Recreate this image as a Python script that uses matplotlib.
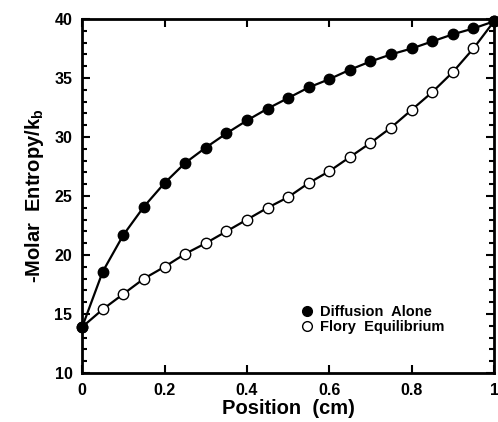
import matplotlib
matplotlib.use("Agg")
import matplotlib.pyplot as plt
from matplotlib.lines import Line2D
from matplotlib.ticker import MultipleLocator

plt.rcParams['font.family'] = ['Liberation Sans', 'DejaVu Sans']
plt.rcParams['font.weight'] = 'bold'

position = [0.0, 0.05, 0.1, 0.15, 0.2, 0.25, 0.3, 0.35, 0.4, 0.45, 0.5,
            0.55, 0.6, 0.65, 0.7, 0.75, 0.8, 0.85, 0.9, 0.95, 1.0]
diffusion_alone = [13.9, 18.6, 21.7, 24.1, 26.1, 27.8, 29.1, 30.3, 31.4, 32.4, 33.3,
                   34.2, 34.9, 35.7, 36.4, 37.0, 37.5, 38.1, 38.7, 39.2, 39.8]
flory_equilibrium = [13.9, 15.4, 16.7, 18.0, 19.0, 20.1, 21.0, 22.0, 23.0, 24.0, 24.9,
                     26.1, 27.1, 28.3, 29.5, 30.8, 32.3, 33.8, 35.5, 37.5, 39.8]
x_ticks = [0, 0.2, 0.4, 0.6, 0.8, 1]
x_ticklabels = ['0', '0.2', '0.4', '0.6', '0.8', '1']
y_ticks = [10, 15, 20, 25, 30, 35, 40]

fig = plt.figure(figsize=(4.98, 4.22), dpi=100)
ax = fig.add_axes([0.165, 0.116, 0.827, 0.839])

ax.plot(position, flory_equilibrium, color='black', lw=1.6, marker='o', ms=7.5,
        mfc='white', mec='black', mew=1.0, clip_on=False, zorder=3)
ax.plot(position, diffusion_alone, color='black', lw=1.6, marker='o', ms=7.5,
        mfc='black', mec='black', clip_on=False, zorder=4)

ax.set_xlim(0, 1)
ax.set_ylim(10, 40)
ax.set_xticks(x_ticks)
ax.set_xticklabels(x_ticklabels)
ax.set_yticks(y_ticks)
ax.yaxis.set_minor_locator(MultipleLocator(1))
ax.tick_params(which='both', direction='in', top=True, right=True, labelsize=11.5, width=1.5)
ax.tick_params(which='major', length=6, pad=7)
ax.tick_params(which='minor', length=3.5)
for lab in ax.get_xticklabels() + ax.get_yticklabels():
    lab.set_fontweight('bold')
for s in ax.spines.values():
    s.set_linewidth(2.0)

ax.set_xlabel('Position  (cm)', fontsize=14.5, fontweight='bold', labelpad=1)
ax.set_ylabel(r'-Molar  Entropy/k$_\mathregular{b}$', fontsize=14.5, fontweight='bold', labelpad=6)

handles = [Line2D([], [], ls='none', marker='o', ms=7, mfc='black', mec='black'),
           Line2D([], [], ls='none', marker='o', ms=7, mfc='white', mec='black', mew=1.0)]
ax.legend(handles, ['Diffusion  Alone', 'Flory  Equilibrium'], loc='upper left',
          bbox_to_anchor=(0.5, 0.23), frameon=False, handlelength=0.8,
          handletextpad=0.5, labelspacing=0.1, prop={'size': 10.5, 'weight': 'bold'})

fig.savefig('out.png', dpi=100)
